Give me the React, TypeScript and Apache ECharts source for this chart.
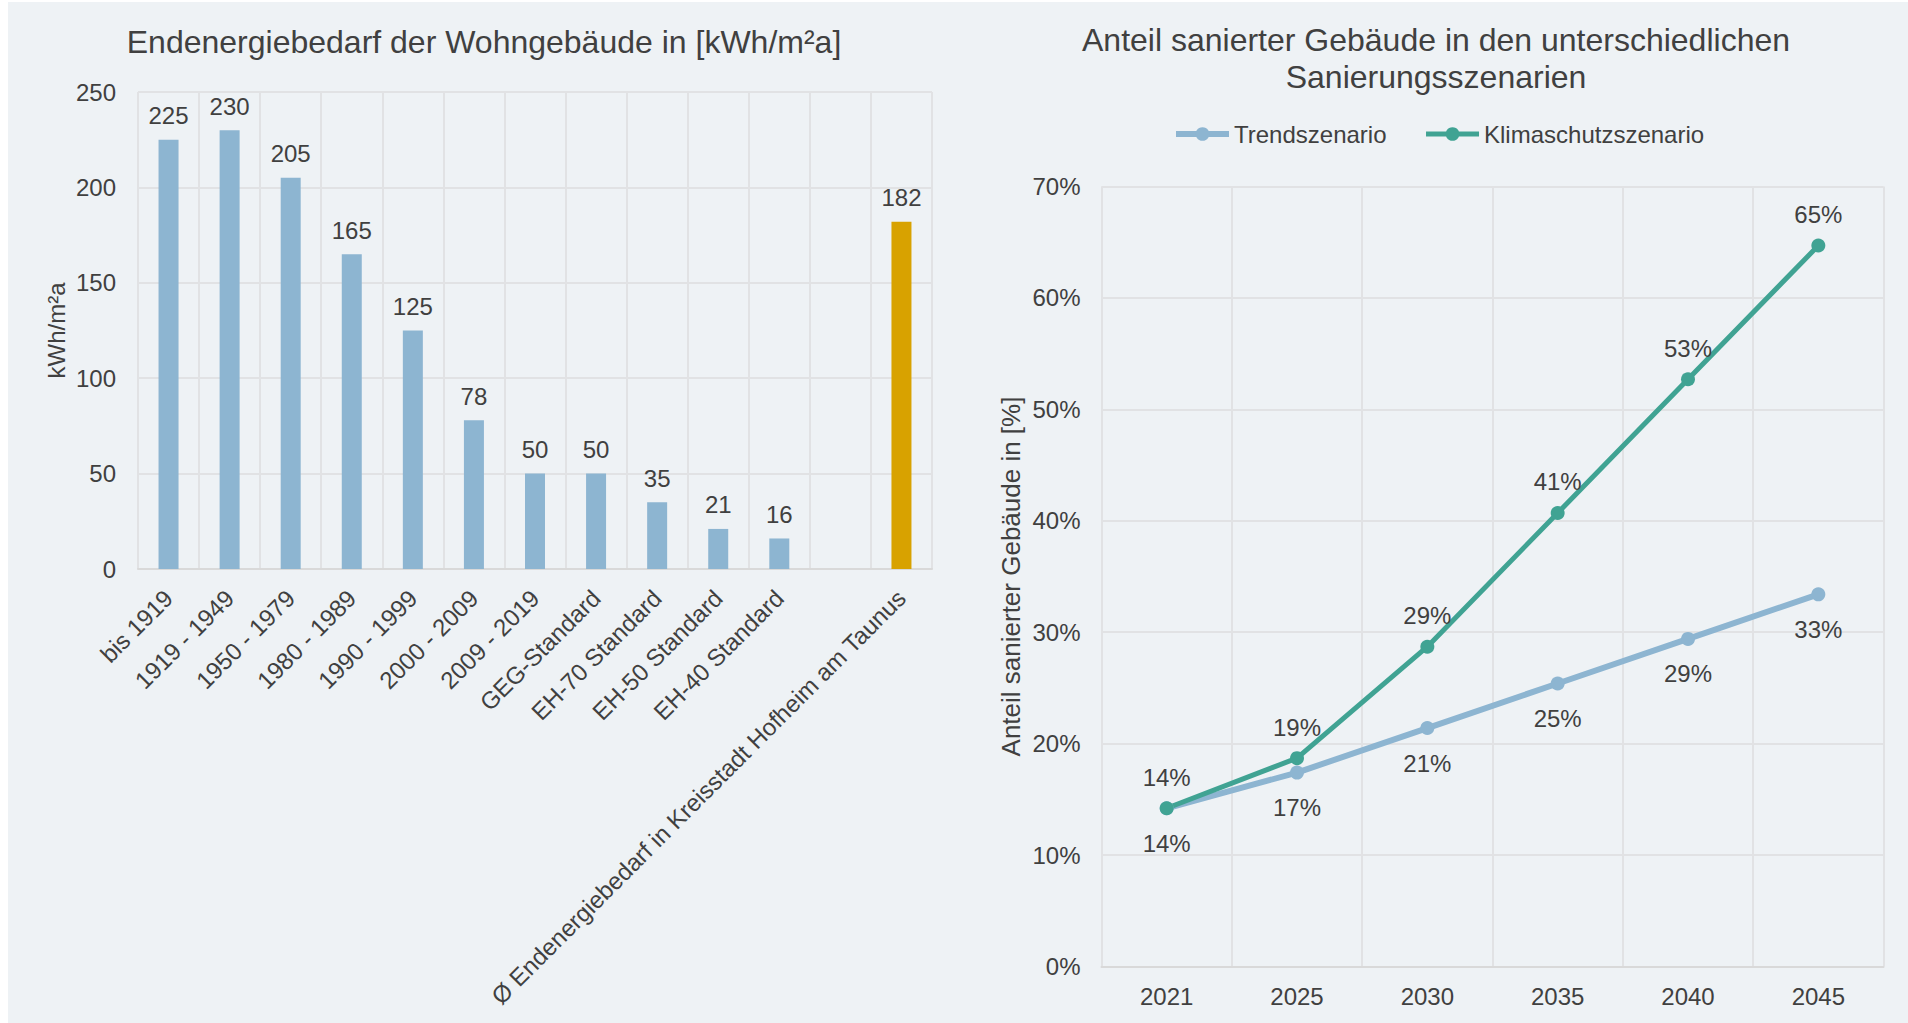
import React, { useEffect, useRef } from "react";
import * as echarts from "echarts";

// ---------- Data ----------
const barCategories = [
  "bis 1919",
  "1919 - 1949",
  "1950 - 1979",
  "1980 - 1989",
  "1990 - 1999",
  "2000 - 2009",
  "2009 - 2019",
  "GEG-Standard",
  "EH-70 Standard",
  "EH-50 Standard",
  "EH-40 Standard",
  "",
  "Ø Endenergiebedarf in Kreisstadt Hofheim am Taunus",
];
const barValues: (number | null)[] = [225, 230, 205, 165, 125, 78, 50, 50, 35, 21, 16, null, 182];
const highlightCategory = "Ø Endenergiebedarf in Kreisstadt Hofheim am Taunus";

const years = ["2021", "2025", "2030", "2035", "2040", "2045"];
const trendValues = [14.2, 17.4, 21.4, 25.4, 29.4, 33.4];
const klimaValues = [14.2, 18.7, 28.7, 40.7, 52.7, 64.7];

const leftTitle = "Endenergiebedarf der Wohngebäude in [kWh/m²a]";
const rightTitle = "Anteil sanierter Gebäude in den unterschiedlichen\nSanierungsszenarien";

// ---------- Styles ----------
const FONT = "'Liberation Sans', Arial, sans-serif";
const TEXT = "#404040";
const GRID = "#e1e2e4";
const BG = "#eef2f5";
const BLUE = "#8db5d1";
const GREEN = "#40a393";
const GOLD = "#d8a200";

export default function App() {
  const ref = useRef<HTMLDivElement>(null);

  useEffect(() => {
    const chart = echarts.init(ref.current!, null, { renderer: "svg" });

    const axisLabelStyle = { fontSize: 24, color: TEXT, fontFamily: FONT };

    const option: any = {
      animation: false,
      backgroundColor: BG,
      textStyle: { fontFamily: FONT, color: TEXT },
      graphic: [
        {
          type: "text",
          x: 476,
          y: 40,
          style: {
            text: leftTitle,
            fontSize: 32,
            fontFamily: FONT,
            fill: TEXT,
            align: "center",
            verticalAlign: "middle",
          },
        },
        {
          type: "text",
          x: 1428,
          y: 56,
          style: {
            text: rightTitle,
            fontSize: 32,
            lineHeight: 37,
            fontFamily: FONT,
            fill: TEXT,
            align: "center",
            verticalAlign: "middle",
          },
        },
      ],
      legend: {
        left: 1165,
        top: 120,
        padding: 0,
        itemWidth: 53,
        itemHeight: 17,
        itemGap: 37,
        textStyle: { fontSize: 24, color: TEXT, fontFamily: FONT },
        data: [
          { name: "Trendszenario", lineStyle: { width: 6 } },
          { name: "Klimaschutzszenario", lineStyle: { width: 5 } },
        ],
      },
      grid: [
        { left: 130, top: 90, width: 794, height: 477 },
        { left: 1093.5, top: 184.5, width: 782, height: 780 },
      ],
      xAxis: [
        {
          type: "category",
          gridIndex: 0,
          data: barCategories,
          axisLine: { show: true, lineStyle: { color: "#d9d9d9", width: 2 } },
          axisTick: { show: false },
          splitLine: { show: true, lineStyle: { color: GRID, width: 2 } },
          axisLabel: { ...axisLabelStyle, rotate: 45, margin: 25, interval: 0 },
        },
        {
          type: "category",
          gridIndex: 1,
          data: years,
          axisLine: { show: true, lineStyle: { color: "#d9d9d9", width: 2 } },
          axisTick: { show: false },
          splitLine: { show: true, lineStyle: { color: GRID, width: 2 } },
          axisLabel: { ...axisLabelStyle, margin: 18, interval: 0 },
        },
      ],
      yAxis: [
        {
          type: "value",
          gridIndex: 0,
          min: 0,
          max: 250,
          interval: 50,
          name: "kWh/m²a",
          nameLocation: "middle",
          nameGap: 70,
          nameTextStyle: { fontSize: 24, color: TEXT, fontFamily: FONT },
          axisLine: { show: false },
          axisTick: { show: false },
          splitLine: { show: true, lineStyle: { color: GRID, width: 2 } },
          axisLabel: { ...axisLabelStyle, margin: 22 },
        },
        {
          type: "value",
          gridIndex: 1,
          min: 0,
          max: 70,
          interval: 10,
          name: "Anteil sanierter Gebäude in [%]",
          nameLocation: "middle",
          nameGap: 78,
          nameTextStyle: { fontSize: 26, color: TEXT, fontFamily: FONT },
          axisLine: { show: false },
          axisTick: { show: false },
          splitLine: { show: true, lineStyle: { color: GRID, width: 2 } },
          axisLabel: { ...axisLabelStyle, margin: 21, formatter: "{value}%" },
        },
      ],
      series: [
        {
          type: "bar",
          xAxisIndex: 0,
          yAxisIndex: 0,
          barWidth: 20,
          data: barValues.map((v, i) => ({
            value: v,
            itemStyle: {
              color: barCategories[i] === highlightCategory ? GOLD : BLUE,
            },
          })),
          label: {
            show: true,
            position: "top",
            distance: 12,
            fontSize: 24,
            color: TEXT,
            fontFamily: FONT,
          },
        },
        {
          name: "Trendszenario",
          type: "line",
          xAxisIndex: 1,
          yAxisIndex: 1,
          data: trendValues,
          symbol: "circle",
          symbolSize: 14,
          lineStyle: { color: BLUE, width: 6 },
          itemStyle: { color: BLUE },
          label: {
            show: true,
            position: "bottom",
            distance: 16,
            fontSize: 24,
            color: TEXT,
            fontFamily: FONT,
            formatter: (p: any) => Math.round(p.value) + "%",
          },
        },
        {
          name: "Klimaschutzszenario",
          type: "line",
          xAxisIndex: 1,
          yAxisIndex: 1,
          data: klimaValues,
          symbol: "circle",
          symbolSize: 14,
          lineStyle: { color: GREEN, width: 5 },
          itemStyle: { color: GREEN },
          label: {
            show: true,
            position: "top",
            distance: 12,
            fontSize: 24,
            color: TEXT,
            fontFamily: FONT,
            formatter: (p: any) => Math.round(p.value) + "%",
          },
        },
      ],
    };

    chart.setOption(option);
    return () => chart.dispose();
  }, []);

  return (
    <div
      ref={ref}
      style={{
        position: "absolute",
        left: 8,
        top: 2,
        width: 1900,
        height: 1021,
        background: BG,
      }}
    />
  );
}
